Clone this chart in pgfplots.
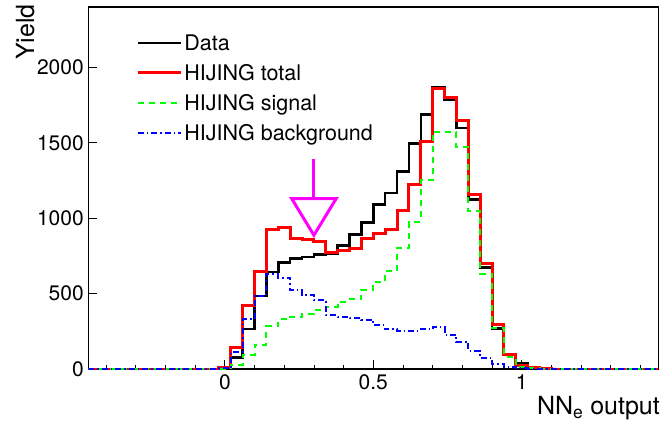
\documentclass[border=0pt]{standalone}
\usepackage{pgfplots}
\pgfplotsset{compat=1.18}
\usepackage{pgfplotstable}
\usepackage{fontspec}
\setmainfont{TeX Gyre Heros}
\definecolor{rootgreen}{RGB}{0,255,0}
\definecolor{rootblue}{RGB}{0,0,255}
\definecolor{rootred}{RGB}{255,0,0}
\definecolor{rootmag}{RGB}{255,0,255}

\pgfplotstableread{
x     data total sig  bkg
-0.46 0    0     0    0
-0.02 5    10    2    5
0.02  75   144   26   115
0.06  265  424   95   329
0.10  483  644   159  483
0.14  644  922   282  630
0.18  706  940   329  606
0.22  733  868   344  525
0.26  743  857   367  490
0.30  758  848   391  457
0.34  766  770   412  357
0.38  818  783   444  344
0.42  890  802   461  335
0.46  971  865   523  324
0.50  1089 900   578  290
0.54  1166 925   651  262
0.58  1308 1050  803  250
0.62  1494 1224  975  254
0.66  1687 1505  1251 265
0.70  1869 1858  1571 280
0.74  1786 1800  1571 228
0.78  1598 1648  1472 178
0.82  1123 1154  1046 120
0.86  672  698   633  73
0.90  267  293   269  33
0.94  100  95    81   13
0.98  35   23    15   4
1.02  8    8     5    1
1.06  2    3     1    0
1.10  0    0     0    0
1.46  0    0     0    0
}\hist

\begin{document}
\begin{tikzpicture}
\begin{axis}[
  scale only axis,
  width=570pt, height=362pt,
  xmin=-0.46, xmax=1.46,
  ymin=0, ymax=2400,
  axis line style={line width=1.2pt},
  font=\fontsize{21}{25}\selectfont,
  tick label style={font=\fontsize{21}{25}\selectfont},
  xtick={0,0.5,1},
  minor xtick={-0.4,-0.3,-0.2,-0.1,0.1,0.2,0.3,0.4,0.6,0.7,0.8,0.9,1.1,1.2,1.3,1.4},
  ytick={0,500,1000,1500,2000},
  xtick pos=bottom, ytick pos=left,
  tick align=inside,
  major tick length=9pt, minor tick length=4pt,
  tick style={black, line width=0.8pt},
  scaled y ticks=false,
  /pgf/number format/1000 sep={},
  /pgf/number format/assume math mode=true,
  xticklabel style={yshift=-2pt},
  yticklabel style={xshift=-1pt},
  xlabel={NN\textsubscript{e} output},
  xlabel style={at={(axis description cs:1.003,0)}, anchor=north east, inner sep=0pt, yshift=-27pt,
    font=\fontsize{25}{30}\selectfont},
  ylabel={Yield},
  ylabel style={at={(axis description cs:-0.094,1.008)}, anchor=south east, inner sep=0pt,
    font=\fontsize{25}{30}\selectfont},
  legend style={draw=none, fill=none, at={(axis description cs:0.084,0.93)}, anchor=north west,
    row sep=8.5pt, font=\fontsize{21.5}{25}\selectfont, inner sep=0pt},
  legend cell align=left,
  legend image code/.code={\draw[#1] (0pt,0pt) -- (43pt,0pt);},
]
\addplot[const plot, black, line width=2.6pt] table[x=x, y=data] {\hist};
\addlegendentry{Data}
\addplot[const plot, rootred, line width=3pt] table[x=x, y=total] {\hist};
\addlegendentry{HIJING total}
\addplot[const plot, rootgreen, line width=2pt, dash pattern=on 6pt off 5pt] table[x=x, y=sig] {\hist};
\addlegendentry{HIJING signal}
\addplot[const plot, rootblue, line width=2pt, dash pattern=on 6pt off 3pt on 1.5pt off 3pt] table[x=x, y=bkg] {\hist};
\addlegendentry{HIJING background}
\draw[rootmag, line width=3pt] (axis cs:0.3,1395) -- (axis cs:0.3,1130);
\draw[rootmag, line width=3pt, line join=miter] (axis cs:0.225,1130) -- (axis cs:0.375,1130) -- (axis cs:0.3,887) -- cycle;
\end{axis}
\pgfresetboundingbox
\path[use as bounding box] (current axis.south west) ++(-88.3pt,-54pt) rectangle ([xshift=5.7pt,yshift=7pt]current axis.north east);
\end{tikzpicture}
\end{document}
